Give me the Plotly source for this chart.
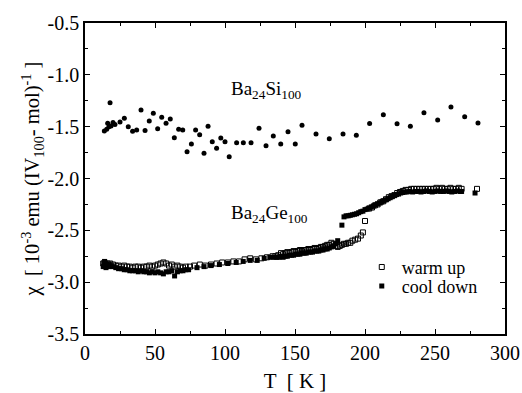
import plotly.graph_objects as go

# Ba24Si100 data
si_T = [13.8, 15.5, 16.2, 17.1, 17.9, 18.6, 20.0, 21.4, 25.0, 28.1, 30.9, 34.0, 36.9, 40.0, 42.9,
        45.9, 48.8, 51.9, 54.8, 57.9, 60.9, 63.8, 66.9, 69.8, 72.9, 76.0, 79.0, 81.9, 85.0, 87.9,
        90.9, 94.0, 97.0, 100.0, 103.0, 108.3, 113.1, 118.6, 124.3, 129.3, 134.5, 139.8, 145.0,
        150.2, 155.0, 165.0, 174.5, 184.3, 193.8, 203.3, 213.1, 222.9, 232.4, 242.1, 251.9,
        261.4, 271.2, 280.7]
si_chi = [-1.541, -1.525, -1.467, -1.50, -1.269, -1.493, -1.461, -1.48, -1.455, -1.42, -1.50,
          -1.545, -1.532, -1.339, -1.538, -1.445, -1.371, -1.519, -1.41, -1.467, -1.426, -1.606,
          -1.525, -1.532, -1.741, -1.667, -1.532, -1.577, -1.757, -1.496, -1.645, -1.709, -1.609,
          -1.645, -1.789, -1.654, -1.654, -1.654, -1.516, -1.683, -1.59, -1.667, -1.548, -1.667,
          -1.487, -1.57, -1.616, -1.57, -1.583, -1.47, -1.384, -1.471, -1.496, -1.365, -1.435,
          -1.31, -1.404, -1.464]

# Ba24Ge100 warm up (open squares)
wu_T = [13, 14, 15, 16, 17, 18, 20, 22, 24, 26, 28, 30, 32, 34, 36, 38, 40, 42, 44, 46, 48, 50,
        52, 54, 56, 58, 60, 62, 64, 66, 68, 70, 72, 75, 78, 82, 86, 90, 94, 98, 102, 106, 110,
        114, 118, 122, 126, 130, 134, 136, 138, 140, 141.5, 143, 144.5, 146, 147.5, 149, 150.5,
        152, 153.5, 155, 156.5, 158, 159.5, 161, 162.5, 164, 165.5, 167, 168.5, 170, 171.5, 173,
        174.5, 176, 177.5, 179, 180.5, 182, 183.5, 185, 186.5, 188, 189.5, 191, 193, 195, 197,
        198.5, 200, 203, 205, 207, 209, 211, 213, 215, 217, 219, 221, 223, 225, 227, 229, 231,
        233, 235, 237, 239, 241, 243, 245, 247, 249, 251, 253, 255, 257, 259, 261, 263, 265,
        267, 269, 280]
wu_chi = [-2.82, -2.81, -2.83, -2.82, -2.83, -2.82, -2.83, -2.84, -2.84, -2.85, -2.84, -2.85,
          -2.85, -2.86, -2.85, -2.85, -2.86, -2.85, -2.85, -2.84, -2.85, -2.84, -2.83, -2.82,
          -2.81, -2.82, -2.84, -2.83, -2.85, -2.84, -2.85, -2.86, -2.85, -2.85, -2.84, -2.83,
          -2.84, -2.83, -2.82, -2.81, -2.81, -2.80, -2.80, -2.78, -2.77, -2.78, -2.77, -2.76,
          -2.75, -2.75, -2.74, -2.72, -2.73, -2.72, -2.71, -2.72, -2.71, -2.70, -2.71, -2.70,
          -2.69, -2.70, -2.69, -2.69, -2.68, -2.69, -2.68, -2.67, -2.68, -2.67, -2.66, -2.66,
          -2.65, -2.64, -2.64, -2.62, -2.63, -2.65, -2.66, -2.65, -2.64, -2.63, -2.63, -2.62,
          -2.62, -2.60, -2.59, -2.58, -2.55, -2.52, -2.41, -2.29, -2.28, -2.26, -2.25, -2.23,
          -2.22, -2.20, -2.18, -2.17, -2.16, -2.14, -2.13, -2.12, -2.11, -2.11, -2.10, -2.10,
          -2.10, -2.10, -2.10, -2.10, -2.10, -2.10, -2.10, -2.09, -2.10, -2.09, -2.10, -2.10,
          -2.09, -2.10, -2.10, -2.09, -2.10, -2.10]

# Ba24Ge100 cool down (filled squares)
cd_T = [13, 13.5, 14, 14.5, 15, 16, 17, 18, 20, 22, 24, 26, 28, 30, 32, 34, 36, 38, 40, 42, 44,
        46, 48, 50, 52, 54, 56, 58, 60, 62, 64, 66, 68, 70, 72, 74, 80, 85, 90, 96, 102, 108,
        113, 118, 123, 128, 132, 135, 137, 138.5, 140, 141.5, 143, 144.5, 146, 147.5, 149,
        150.5, 152, 153.5, 155, 156.5, 158, 159.5, 161, 162.5, 164, 165.5, 167, 168.5, 170,
        171.5, 173, 174.5, 176, 177.5, 179, 180.5, 183.5, 185, 186.5, 188, 189.5, 191, 192.5,
        194, 195.5, 197, 198.5, 200, 201.5, 203, 204.5, 206, 207.5, 209, 210.5, 212, 213.5,
        215, 216.5, 218, 219.5, 221, 222.5, 224, 225.5, 227, 228.5, 230, 232, 234, 236, 238,
        240, 242, 244, 246, 248, 250, 252, 254, 256, 258, 260, 262, 264, 266, 268, 269, 278.6]
cd_chi = [-2.85, -2.82, -2.80, -2.84, -2.86, -2.83, -2.85, -2.84, -2.85, -2.86, -2.87, -2.87,
          -2.88, -2.88, -2.89, -2.89, -2.89, -2.90, -2.89, -2.90, -2.90, -2.91, -2.90, -2.91,
          -2.90, -2.91, -2.92, -2.90, -2.90, -2.89, -2.94, -2.90, -2.89, -2.89, -2.88, -2.88,
          -2.86, -2.85, -2.84, -2.83, -2.82, -2.81, -2.80, -2.79, -2.79, -2.77, -2.76, -2.76,
          -2.76, -2.76, -2.75, -2.76, -2.75, -2.75, -2.74, -2.74, -2.74, -2.73, -2.73, -2.73,
          -2.72, -2.72, -2.72, -2.71, -2.71, -2.71, -2.70, -2.70, -2.70, -2.69, -2.69, -2.68,
          -2.68, -2.67, -2.66, -2.65, -2.63, -2.60, -2.45, -2.37, -2.36, -2.36, -2.355, -2.35,
          -2.345, -2.34, -2.33, -2.32, -2.315, -2.30, -2.295, -2.285, -2.275, -2.265, -2.255,
          -2.245, -2.235, -2.225, -2.215, -2.205, -2.195, -2.185, -2.175, -2.165, -2.155, -2.15,
          -2.14, -2.135, -2.13, -2.13, -2.125, -2.13, -2.125, -2.125, -2.13, -2.125, -2.12,
          -2.125, -2.13, -2.125, -2.12, -2.125, -2.125, -2.12, -2.125, -2.13, -2.125, -2.12,
          -2.125, -2.125, -2.14]

# axis tick values and labels
x_ticks = [0, 50, 100, 150, 200, 250, 300]
x_ticklabels = ["0", "50", "100", "150", "200", "250", "300"]
y_ticks = [-3.5, -3.0, -2.5, -2.0, -1.5, -1.0, -0.5]
y_ticklabels = ["-3.5", "-3.0", "-2.5", "-2.0", "-1.5", "-1.0", "-0.5"]

FONT = "Liberation Serif"

fig = go.Figure()
fig.add_trace(go.Scatter(x=si_T, y=si_chi, mode="markers", showlegend=False,
                         marker=dict(symbol="circle", size=5, color="black")))
fig.add_trace(go.Scatter(x=wu_T, y=wu_chi, mode="markers", name="warm up", legend="legend",
                         marker=dict(symbol="square-open", size=5, color="black",
                                     line=dict(width=1, color="black"))))
fig.add_trace(go.Scatter(x=cd_T, y=cd_chi, mode="markers", name="cool down", legend="legend2",
                         marker=dict(symbol="square", size=5, color="black")))

axis_common = dict(showline=True, linecolor="black", linewidth=1.5, mirror="ticks",
                   ticks="inside", ticklen=5, tickwidth=1, tickcolor="black",
                   showgrid=False, zeroline=False, automargin=False,
                   tickfont=dict(family=FONT, size=20, color="black"))

fig.update_xaxes(range=[0, 300], tickmode="array", tickvals=x_ticks, ticktext=x_ticklabels,
                 minor=dict(ticks="inside", dtick=25, tick0=0, ticklen=3, tickcolor="black"),
                 title=dict(text="T  [ K ]", font=dict(family=FONT, size=21, color="black"),
                            standoff=12),
                 **axis_common)
fig.update_yaxes(range=[-3.5, -0.5], tickmode="array", tickvals=y_ticks, ticktext=y_ticklabels,
                 minor=dict(ticks="inside", dtick=0.25, tick0=-3.5, ticklen=3, tickcolor="black"),
                 title=dict(text="χ  [ 10<sup>-3</sup> emu (IV<sub>100</sub>- mol)<sup>-1</sup> ]",
                            font=dict(family=FONT, size=20.5, color="black"), standoff=2),
                 **axis_common)

fig.add_annotation(x=129.5, y=-1.15, xref="x", yref="y", showarrow=False,
                   text="Ba<sub>24</sub>Si<sub>100</sub>",
                   font=dict(family=FONT, size=19, color="black"))
fig.add_annotation(x=132, y=-2.34, xref="x", yref="y", showarrow=False,
                   text="Ba<sub>24</sub>Ge<sub>100</sub>",
                   font=dict(family=FONT, size=19, color="black"))

leg_common = dict(xanchor="left", yanchor="top", bgcolor="rgba(0,0,0,0)",
                  font=dict(family=FONT, size=18, color="black"), itemwidth=30)

fig.update_layout(
    width=522, height=393,
    margin=dict(l=85, r=17, t=23, b=59, autoexpand=False),
    paper_bgcolor="white", plot_bgcolor="white",
    font=dict(family=FONT, color="black"),
    legend=dict(x=0.659, y=0.274, **leg_common),
    legend2=dict(x=0.659, y=0.213, **leg_common),
)

fig.write_html("out.html")
